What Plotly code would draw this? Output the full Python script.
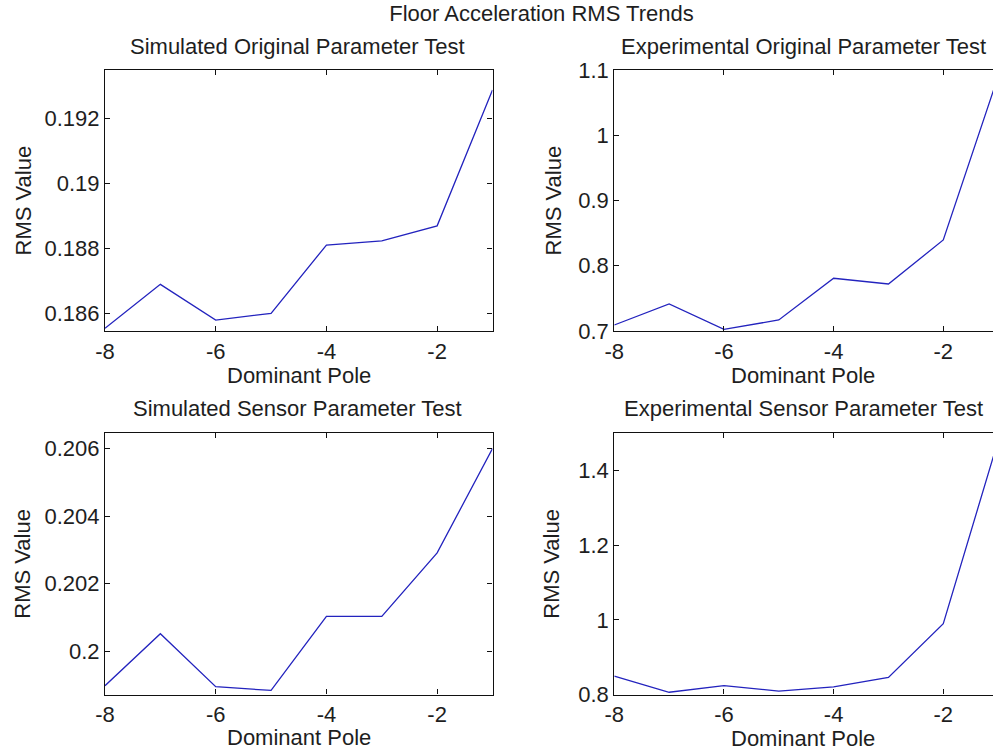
import plotly.graph_objects as go

# ---------------- data ----------------
dominant_pole = [-8, -7, -6, -5, -4, -3, -2, -1]
sim_original = [0.18554, 0.18689, 0.18579, 0.18600, 0.18810, 0.18823, 0.18869, 0.19287]
exp_original = [0.7092, 0.7414, 0.7026, 0.7169, 0.7808, 0.7720, 0.8395, 1.090]
sim_sensor = [0.19898, 0.20052, 0.19895, 0.19884, 0.20103, 0.20103, 0.20291, 0.20600]
exp_sensor = [0.849, 0.806, 0.824, 0.809, 0.8205, 0.846, 0.990, 1.480]

x_ticks = [-8, -6, -4, -2]
x_tick_labels = ["-8", "-6", "-4", "-2"]
sim_orig_ticks = [0.186, 0.188, 0.190, 0.192]
sim_orig_labels = ["0.186", "0.188", "0.19", "0.192"]
exp_orig_ticks = [0.7, 0.8, 0.9, 1.0, 1.1]
exp_orig_labels = ["0.7", "0.8", "0.9", "1", "1.1"]
sim_sens_ticks = [0.200, 0.202, 0.204, 0.206]
sim_sens_labels = ["0.2", "0.202", "0.204", "0.206"]
exp_sens_ticks = [0.8, 1.0, 1.2, 1.4]
exp_sens_labels = ["0.8", "1", "1.2", "1.4"]

main_title = "Floor Acceleration RMS Trends"
sub_titles = ["Simulated Original Parameter Test", "Experimental Original Parameter Test",
              "Simulated Sensor Parameter Test", "Experimental Sensor Parameter Test"]
x_label = "Dominant Pole"
y_label = "RMS Value"

# ---------------- layout geometry ----------------
W, H = 993, 750
FONT = "Liberation Sans, Arial, Helvetica, sans-serif"
FS = 22
TXT = "#1e1e1e"
LINE_COLOR = "rgb(35,35,190)"

def px_x(p):
    return p / W

def px_y(p):
    return 1 - p / H

left_dom = [px_x(105), px_x(492.5)]
right_dom = [px_x(614.3), 1.0]
top_dom = [px_y(331), px_y(70)]
bot_dom = [px_y(694.5), px_y(433.3)]

fig = go.Figure()
series = [sim_original, exp_original, sim_sensor, exp_sensor]
for i, ys in enumerate(series):
    fig.add_trace(go.Scatter(
        x=dominant_pole, y=ys, mode="lines",
        line=dict(color=LINE_COLOR, width=1.3),
        xaxis="x" if i == 0 else f"x{i+1}",
        yaxis="y" if i == 0 else f"y{i+1}",
        showlegend=False, hoverinfo="x+y",
    ))

def xax(dom, rng, anchor):
    return dict(domain=dom, range=rng, anchor=anchor, tickvals=x_ticks, ticktext=x_tick_labels,
                ticks="inside", ticklen=5, tickcolor="#111", showline=True, linecolor="#111",
                linewidth=1.2, mirror="ticks", showgrid=False, zeroline=False,
                tickfont=dict(family=FONT, size=FS, color=TXT), automargin=False)

def yax(dom, rng, anchor, tv, tt, mirror=True):
    return dict(domain=dom, range=rng, anchor=anchor, tickvals=tv, ticktext=tt,
                ticks="inside", ticklen=5, tickcolor="#111", showline=True, linecolor="#111",
                linewidth=1.2, mirror="ticks" if mirror else False, showgrid=False, zeroline=False,
                tickfont=dict(family=FONT, size=FS, color=TXT), automargin=False)

right_xmax = -8 + (993 - 614.3) / 54.83

fig.update_layout(
    width=W, height=H,
    margin=dict(l=0, r=0, t=0, b=0),
    paper_bgcolor="white", plot_bgcolor="white",
    font=dict(family=FONT, size=FS, color=TXT),
    title=dict(text=main_title, x=px_x(541.5), xanchor="center", y=px_y(13), yanchor="middle",
               font=dict(family=FONT, size=FS, color=TXT)),
    xaxis=xax(left_dom, [-8, -1], "y"),
    yaxis=yax(top_dom, [0.185455, 0.193486], "x", sim_orig_ticks, sim_orig_labels),
    xaxis2=xax(right_dom, [-8, right_xmax], "y2"),
    yaxis2=yax(top_dom, [0.7, 1.1], "x2", exp_orig_ticks, exp_orig_labels, mirror=False),
    xaxis3=xax(left_dom, [-8, -1], "y3"),
    yaxis3=yax(bot_dom, [0.19872, 0.20645], "x3", sim_sens_ticks, sim_sens_labels),
    xaxis4=xax(right_dom, [-8, right_xmax], "y4"),
    yaxis4=yax(bot_dom, [0.8, 1.5], "x4", exp_sens_ticks, exp_sens_labels, mirror=False),
)

ann = []
def text(s, x, y, angle=0):
    ann.append(dict(text=s, x=px_x(x), y=px_y(y), xref="paper", yref="paper",
                    xanchor="center", yanchor="middle", showarrow=False, textangle=angle,
                    font=dict(family=FONT, size=FS, color=TXT)))

text(sub_titles[0], 297, 46)
text(sub_titles[1], 803, 46)
text(sub_titles[2], 297, 408)
text(sub_titles[3], 803, 408)
text(x_label, 298.7, 375)
text(x_label, 803, 375)
text(x_label, 298.7, 737)
text(x_label, 803, 738)
text(y_label, 23, 200.5, -90)
text(y_label, 553, 200.5, -90)
text(y_label, 23, 563.7, -90)
text(y_label, 552, 563.7, -90)
fig.update_layout(annotations=ann)

fig.write_html("out.html",
               config={"displayModeBar": False},
               post_script="document.body.style.margin='0';document.body.style.overflow='hidden';")
